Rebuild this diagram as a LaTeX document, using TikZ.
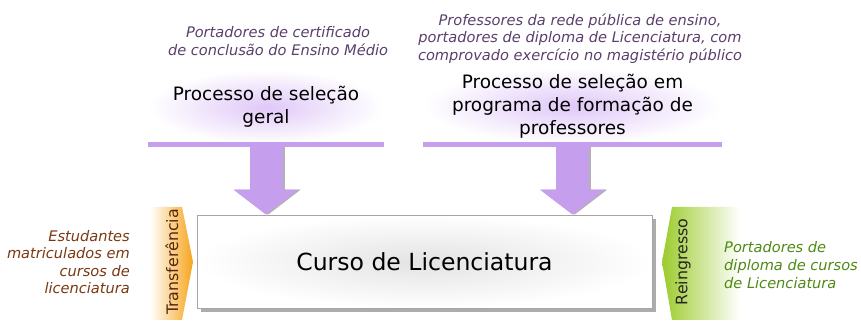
\documentclass[tikz,border=0pt]{standalone}
\usepackage{fontspec}
\setmainfont{DejaVu Sans}
\usepackage{tikz}
\usetikzlibrary{arrows.meta,shadows}

\definecolor{lilas}{HTML}{C59EEE}
\definecolor{lilasclaro}{HTML}{E0C8F8}
\definecolor{roxotexto}{HTML}{5A3F6C}
\definecolor{laranja}{HTML}{F6A51C}
\definecolor{marrom}{HTML}{7A3812}
\definecolor{verde}{HTML}{9CCB2C}
\definecolor{verdetexto}{HTML}{4D8A14}

\begin{document}
\begin{tikzpicture}[
    selbox/.style={inner color=lilasclaro, outer color=white, minimum height=1.48cm,
        align=center, font=\fontsize{10.5}{13}\selectfont, text=black},
    nota/.style={font=\itshape\fontsize{8.3}{10}\selectfont, align=center},
    fatarrow/.style={line width=0.66cm, lilas, -{Triangle[width=1.28cm,length=0.5cm]}},
    sombra/.style={line width=0.66cm, gray!60, -{Triangle[width=1.28cm,length=0.5cm]}}
]
    % Fix the page size
    \useasboundingbox (0,0) rectangle (17.22,6.42);

    % Notes above the selection boxes
    \node[nota, text=roxotexto] (n1) at (5.56,5.6) {Portadores de certificado\\de conclusão do Ensino Médio};
    \node[nota, text=roxotexto] (n2) at (11.6,5.65) {Professores da rede pública de ensino,\\portadores de diploma de Licenciatura, com\\comprovado exercício no magistério público};

    % Selection boxes
    \node[selbox, minimum width=4.72cm] (p1) at (5.32,4.28) {Processo de seleção\\geral};
    \node[selbox, minimum width=5.98cm, minimum height=1.5cm] (p2) at (11.45,4.3) {Processo de seleção em\\programa de formação de\\professores};
    \draw[lilas, line width=0.1cm] (p1.south west) -- (p1.south east);
    \draw[lilas, line width=0.1cm] (p2.south west) -- (p2.south east);

    % Main box
    \node[draw=gray!70, inner color=gray!22, outer color=white,
        drop shadow={shadow xshift=2pt, shadow yshift=-2pt, fill=gray!65, opacity=1},
        minimum width=9.1cm, minimum height=1.86cm, font=\fontsize{13.4}{16}\selectfont]
        (curso) at (8.49,1.19) {Curso de Licenciatura};

    % Arrows down
    \draw[sombra] ([xshift=1.2pt,yshift=-0.06cm]p1.south) -- ([xshift=1.2pt]p1.south |- curso.north);
    \draw[fatarrow] ([yshift=-0.06cm]p1.south) -- (p1.south |- curso.north);
    \draw[sombra] ([xshift=1.2pt,yshift=-0.06cm]p2.south) -- ([xshift=1.2pt]p2.south |- curso.north);
    \draw[fatarrow] ([yshift=-0.06cm]p2.south) -- (p2.south |- curso.north);

    % Side tabs
    \shade[left color=white, middle color=laranja!85, right color=laranja]
        (3.0,2.28) -- (3.64,2.28) -- (3.86,1.18) -- (3.64,0.02) -- (3.0,0.02) -- cycle;
    \shade[left color=verde, right color=white]
        (13.44,2.28) -- (14.8,2.28) -- (14.8,0.02) -- (13.44,0.02) -- (13.24,1.18) -- cycle;
    \node[rotate=90, font=\fontsize{9}{11}\selectfont, text=marrom!70!black] (trans) at (3.44,1.18) {Transferência};
    \node[rotate=90, font=\fontsize{9}{11}\selectfont, text=black!85] (reing) at (13.66,1.18) {Reingresso};

    % Side notes
    \node[nota, text=marrom, align=right, anchor=east] (n3) at (2.72,1.18) {Estudantes\\matriculados em\\cursos de\\licenciatura};
    \node[nota, text=verdetexto, align=left, anchor=west] (n4) at (14.36,1.12) {Portadores de\\diploma de cursos\\de Licenciatura};
\end{tikzpicture}
\end{document}
